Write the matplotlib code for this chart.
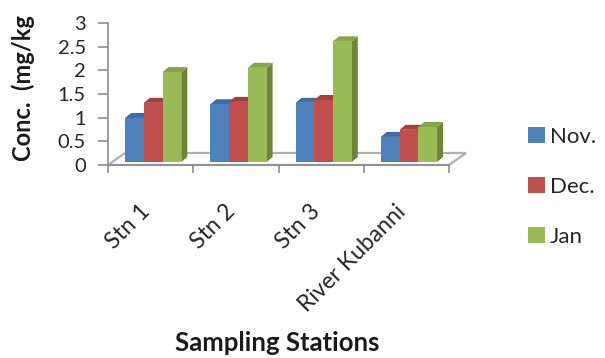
import numpy as np
import matplotlib.pyplot as plt
import matplotlib.transforms as mtransforms
from matplotlib.patches import Polygon, Patch

plt.rcParams['font.family'] = ['Lato', 'DejaVu Sans']

stations = ["Stn 1", "Stn 2", "Stn 3", "River Kubanni"]
months = ["Nov.", "Dec.", "Jan"]
nov = [0.93, 1.22, 1.25, 0.53]
dec = [1.25, 1.27, 1.31, 0.68]
jan = [1.90, 1.99, 2.55, 0.74]
series = [nov, dec, jan]

front = ["#4f81bd", "#c0504d", "#9bbb59"]
top = ["#3d6ca6", "#a43f3c", "#86a548"]
side = ["#34598a", "#873432", "#6c8636"]

fig = plt.figure(figsize=(6.05, 3.58), dpi=100)
ax = fig.add_axes([108 / 605, 193 / 358, 341 / 605, 142 / 358])
ax.set_xlim(-0.5, 3.5)
ax.set_ylim(0, 3)

# pixel -> data conversions for the fake 3d depth
px_x = 4 / 341
px_y = 3 / 142
bw = 0.22
ddx, ddy = 6 * px_x, 5 * px_y      # bar depth
fdx, fdy = 17 * px_x, 12 * px_y    # floor depth
lift = 3 * px_y

grey = "#8c8c8c"

# floor
floor = Polygon([(-0.5, 0), (3.5, 0), (3.5 + fdx, fdy), (-0.5 + fdx, fdy)],
                closed=True, facecolor="white", edgecolor="#b0b0b0",
                linewidth=1.6, clip_on=False, zorder=1)
ax.add_patch(floor)
ax.plot([-0.5, 3.5], [0, 0], color=grey, lw=1.2, clip_on=False, zorder=1.5)

x = np.arange(len(stations))
for i in x:
    for k, vals in enumerate(series):
        x0 = i + (k - 1) * bw + 0.03 - bw / 2
        x1 = x0 + bw
        y0 = lift
        y1 = lift + vals[i]
        z = 2 + i * 10 + k * 2
        ax.add_patch(Polygon([(x1, y0), (x1 + ddx, y0 + ddy), (x1 + ddx, y1 + ddy), (x1, y1)],
                             closed=True, facecolor=side[k], edgecolor="none",
                             clip_on=False, zorder=z))
        ax.add_patch(Polygon([(x0, y1), (x1, y1), (x1 + ddx, y1 + ddy), (x0 + ddx, y1 + ddy)],
                             closed=True, facecolor=top[k], edgecolor="none",
                             clip_on=False, zorder=z))
        ax.bar(x0, vals[i], width=bw, bottom=lift, align="edge",
               color=front[k], edgecolor="none", zorder=z + 1)

for s in ["top", "right", "bottom"]:
    ax.spines[s].set_visible(False)
ax.spines["left"].set_color(grey)
ax.spines["left"].set_linewidth(1.2)

ax.set_yticks(np.arange(0, 3.01, 0.5))
ax.set_yticklabels(["0", "0.5", "1", "1.5", "2", "2.5", "3"])
ax.tick_params(axis="y", direction="out", length=7, width=1.2, color=grey,
               labelsize=14.5, labelcolor="#262626", pad=9)

ax.set_xticks(x)
ax.set_xticklabels(stations, rotation=45, ha="right", va="center",
                   rotation_mode="anchor")
ax.set_xticks(np.arange(-0.5, 3.6, 1), minor=True)
ax.tick_params(axis="x", which="major", length=0, labelsize=16.5,
               labelcolor="#262626", pad=31)
ax.tick_params(axis="x", which="minor", direction="out", length=6,
               width=1.2, color=grey)

# nudge station names a little to the left
shift = mtransforms.ScaledTranslation(-4 / 100, 0, fig.dpi_scale_trans)
for lab in ax.get_xticklabels():
    lab.set_transform(lab.get_transform() + shift)

fig.text(0.038, 0.755, "Conc.  (mg/kg", rotation=90, ha="center", va="center",
         fontsize=17, fontweight="bold", color="#1a1a1a")
fig.text(277 / 605, 1 - 343 / 358, "Sampling Stations", ha="center", va="center",
         fontsize=18.5, fontweight="bold", color="#1a1a1a")

handles = [Patch(facecolor=c, edgecolor="none") for c in front]
fig.legend(handles, months, loc="upper left", bbox_to_anchor=(528 / 605, 1 - 127 / 358),
           frameon=False, fontsize=16, handlelength=0.75, handleheight=0.75,
           handletextpad=0.25, labelspacing=1.35, labelcolor="#262626",
           borderaxespad=0, borderpad=0)

fig.savefig("out.png", dpi=100)
